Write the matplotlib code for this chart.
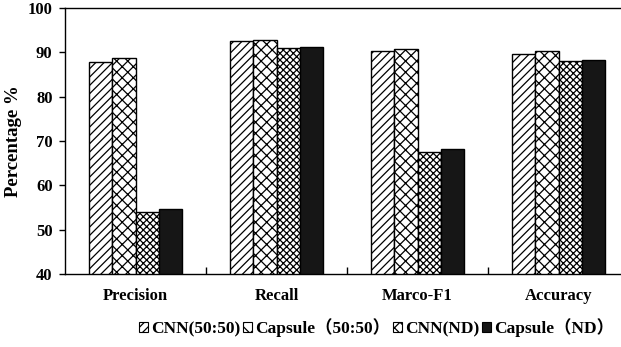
import numpy as np
import matplotlib
matplotlib.use("Agg")
import matplotlib.pyplot as plt
from matplotlib.patches import Patch

plt.rcParams['font.family'] = ['Liberation Serif', 'Noto Sans CJK SC']
plt.rcParams['font.weight'] = 'bold'
plt.rcParams['hatch.linewidth'] = 0.9

categories = ["Precision", "Recall", "Marco-F1", "Accuracy"]
series_names = ["CNN(50:50)", "Capsule（50:50）", "CNN(ND)", "Capsule（ND）"]
cnn_5050 = [87.9, 92.5, 90.2, 89.6]
capsule_5050 = [88.8, 92.8, 90.7, 90.4]
cnn_nd = [53.9, 91.0, 67.6, 88.1]
capsule_nd = [54.7, 91.3, 68.2, 88.3]
y_ticks = [40, 50, 60, 70, 80, 90, 100]

series = [cnn_5050, capsule_5050, cnn_nd, capsule_nd]
hatches = ["////", "xxx", "xxxxx", ""]
faces = ["white", "white", "white", "#161616"]

fig = plt.figure(figsize=(6.21, 3.47), dpi=100)
ax = fig.add_axes([0.1047, 0.2104, 0.9083, 0.7666])

x = np.arange(len(categories))
w = 0.165
for i, (vals, h, fc) in enumerate(zip(series, hatches, faces)):
    ax.bar(x + (i - 1.5) * w, np.array(vals) - 40, bottom=40, width=w,
           color=fc, edgecolor="black", hatch=h, linewidth=1.0, zorder=3)

ax.set_xlim(-0.5, len(categories) - 0.5)
ax.set_ylim(40, 100)
ax.set_yticks(y_ticks)
ax.set_yticklabels([str(t) for t in y_ticks], fontsize=12, fontweight='bold')
ax.tick_params(axis='y', direction='out', length=4, width=1, pad=5)

# boundary ticks between groups, labels at group centres
ax.set_xticks(np.arange(0.5, len(categories) - 0.5, 1.0))
ax.set_xticklabels([])
ax.tick_params(axis='x', which='major', direction='in', length=5, width=1)
ax.set_xticks(x, minor=True)
ax.set_xticklabels(categories, minor=True, fontsize=12, fontweight='bold')
ax.tick_params(axis='x', which='minor', length=0, pad=10)

for s in ['left', 'bottom', 'top']:
    ax.spines[s].set_linewidth(1.0)
ax.spines['right'].set_visible(False)

ax.set_ylabel("Percentage %", fontsize=13.5, fontweight='bold', labelpad=4)

handles = [Patch(facecolor=fc, edgecolor="black", hatch=h, linewidth=0.8)
           for h, fc in zip(["////", "xx", "xxx", ""], faces)]
fig.legend(handles, series_names, loc='center', bbox_to_anchor=(0.606, 0.055),
           ncol=4, frameon=False, handlelength=0.55, handleheight=0.55,
           handletextpad=0.15, columnspacing=0.15,
           prop={'size': 12.5, 'weight': 'bold',
                 'family': ['Liberation Serif', 'Noto Sans CJK SC']})

fig.savefig("out.png", dpi=100)
